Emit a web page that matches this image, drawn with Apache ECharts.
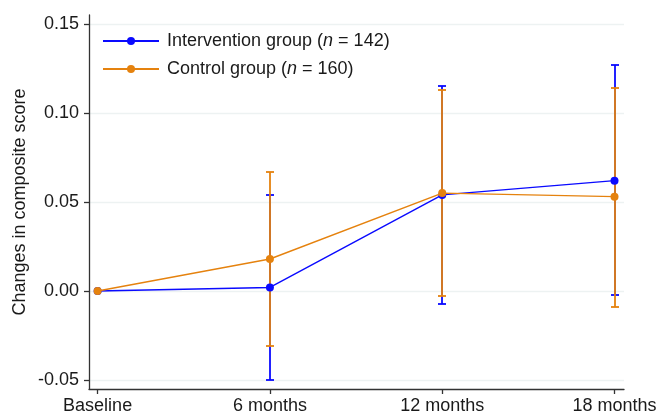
<!DOCTYPE html>
<html>
<head>
<meta charset="utf-8">
<script src="https://cdn.jsdelivr.net/npm/echarts@6/dist/echarts.min.js"></script>
<style>
  html, body { margin: 0; padding: 0; background: #fff; }
  #chart { width: 658px; height: 414px; }
</style>
</head>
<body>
<div id="chart"></div>
<script>
// Time points of the follow-up
const timePoints = ['Baseline', '6 months', '12 months', '18 months'];

// Mean change in composite score with 95% CI, intervention group
const interventionN = 142;
const interventionMean  = [0, 0.002, 0.054, 0.062];
const interventionLower = [null, -0.050, -0.007, -0.002];
const interventionUpper = [null, 0.054, 0.115, 0.127];

// Mean change in composite score with 95% CI, control group
const controlN = 160;
const controlMean  = [0, 0.018, 0.055, 0.053];
const controlLower = [null, -0.031, -0.003, -0.009];
const controlUpper = [null, 0.067, 0.113, 0.114];

// Y axis tick values
const yTicks = [-0.05, 0, 0.05, 0.10, 0.15];

const BLUE = '#0a0aff';
const ORANGE = '#e5820e';
const FONT = 'Liberation Sans, Arial, sans-serif';
const TEXT = '#1a1a1a';

function pointData(means) {
  return means.map((v, i) => [i, v]);
}
function ciData(lower, upper) {
  const out = [];
  lower.forEach((lo, i) => {
    if (lo !== null && upper[i] !== null) out.push([i, lo, upper[i]]);
  });
  return out;
}
// Vertical CI bar with caps; snapped to whole pixels so overlapping bars stay crisp
function errorBarRenderer(color) {
  return function (params, api) {
    const xv = api.value(0);
    const lo = api.coord([xv, api.value(1)]);
    const hi = api.coord([xv, api.value(2)]);
    const x = Math.round(lo[0]);
    const yLo = Math.round(lo[1]);
    const yHi = Math.round(hi[1]);
    const half = 4;
    const style = { stroke: color, lineWidth: 1.8, fill: null };
    return {
      type: 'group',
      children: [
        { type: 'line', shape: { x1: x, y1: yLo, x2: x, y2: yHi }, style },
        { type: 'line', shape: { x1: x - half, y1: yLo, x2: x + half, y2: yLo }, style },
        { type: 'line', shape: { x1: x - half, y1: yHi, x2: x + half, y2: yHi }, style }
      ]
    };
  };
}

const chart = echarts.init(document.getElementById('chart'), null, { renderer: 'canvas' });

chart.setOption({
  animation: false,
  backgroundColor: '#ffffff',
  textStyle: { fontFamily: FONT },
  grid: { left: 89, right: 34, top: 15, bottom: 25, containLabel: false, outerBoundsMode: 'none' },
  legend: {
    left: 102,
    top: 32,
    padding: 0,
    orient: 'vertical',
    itemWidth: 56,
    itemHeight: 10,
    itemGap: 10,
    data: ['Intervention group', 'Control group'],
    formatter: function (name) {
      const n = name === 'Intervention group' ? interventionN : controlN;
      return name + ' ({i|n} = ' + n + ')';
    },
    textStyle: {
      fontFamily: FONT,
      fontSize: 18,
      color: TEXT,
      padding: [0, 0, 0, 3],
      rich: {
        i: { fontFamily: FONT, fontSize: 18, fontStyle: 'italic', color: TEXT }
      }
    }
  },
  xAxis: {
    type: 'value',
    min: -0.05,
    max: 3.055,
    axisLine: { show: true, onZero: false, lineStyle: { color: '#333', width: 1.3 } },
    axisTick: { show: true, length: 5, lineStyle: { color: '#333', width: 1.3 }, customValues: [0, 1, 2, 3] },
    axisLabel: {
      customValues: [0, 1, 2, 3],
      formatter: v => timePoints[Math.round(v)],
      fontFamily: FONT,
      fontSize: 18,
      color: TEXT,
      margin: 8
    },
    splitLine: { show: false }
  },
  yAxis: {
    type: 'value',
    min: -0.055,
    max: 0.155,
    name: 'Changes in composite score',
    nameLocation: 'middle',
    nameGap: 60,
    nameMoveOverlap: false,
    nameTextStyle: { fontFamily: FONT, fontSize: 18, color: TEXT },
    axisLine: { show: true, onZero: false, lineStyle: { color: '#333', width: 1.3 } },
    axisTick: { show: true, length: 5, lineStyle: { color: '#333', width: 1.3 }, customValues: yTicks },
    axisLabel: {
      customValues: yTicks,
      formatter: v => v.toFixed(2),
      fontFamily: FONT,
      fontSize: 18,
      color: TEXT,
      margin: 10
    },
    splitLine: { show: true, lineStyle: { color: '#edf2f2', width: 1.3 } }
  },
  series: [
    {
      name: 'Intervention CI',
      type: 'custom',
      renderItem: errorBarRenderer(BLUE),
      data: ciData(interventionLower, interventionUpper),
      encode: { x: 0, y: [1, 2] },
      z: 2,
      silent: true
    },
    {
      name: 'Control CI',
      type: 'custom',
      renderItem: errorBarRenderer(ORANGE),
      data: ciData(controlLower, controlUpper),
      encode: { x: 0, y: [1, 2] },
      z: 3,
      silent: true
    },
    {
      name: 'Intervention group',
      type: 'line',
      data: pointData(interventionMean),
      symbol: 'circle',
      symbolSize: 8,
      lineStyle: { color: BLUE, width: 1.4 },
      itemStyle: { color: BLUE },
      z: 4
    },
    {
      name: 'Control group',
      type: 'line',
      data: pointData(controlMean),
      symbol: 'circle',
      symbolSize: 8,
      lineStyle: { color: ORANGE, width: 1.4 },
      itemStyle: { color: ORANGE },
      z: 5
    }
  ]
});
</script>
</body>
</html>
